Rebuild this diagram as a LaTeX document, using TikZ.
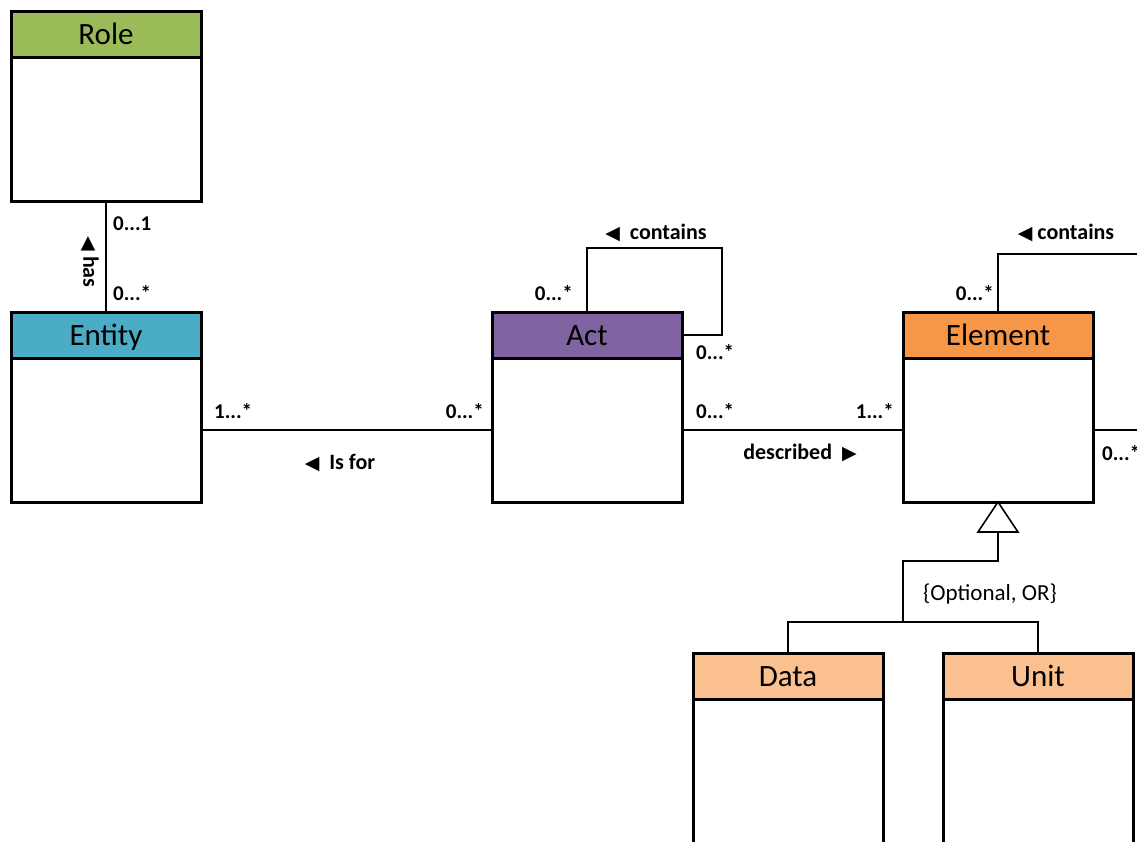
\documentclass[tikz,border=0pt]{standalone}
\usepackage{fontspec}
\setmainfont{Carlito}
\newfontfamily\sym{DejaVu Sans}
\definecolor{rolec}{HTML}{9BBB59}
\definecolor{entc}{HTML}{4BACC6}
\definecolor{actc}{HTML}{8064A2}
\definecolor{elemc}{HTML}{F79646}
\definecolor{subc}{HTML}{FAC090}
\newcommand{\lt}{{\sym\fontsize{19}{19}\selectfont ◀}}
\newcommand{\rt}{{\sym\fontsize{19}{19}\selectfont ▶}}
\tikzset{
  hdr/.style={draw, line width=3pt, minimum width=190pt, minimum height=46pt, inner sep=0pt, outer sep=0pt, anchor=north west, text height=20pt, text depth=0pt, font=\fontsize{31}{34}\selectfont},
  body/.style={draw, line width=3pt, fill=white, minimum width=190pt, minimum height=144pt, inner sep=0pt, outer sep=0pt, anchor=north west},
  conn/.style={line width=1.6pt},
  mult/.style={inner sep=0pt, font=\bfseries\fontsize{21}{24}\selectfont},
  lbl/.style={inner sep=0pt, font=\bfseries\fontsize{22}{24}\selectfont}
}
\begin{document}
\begin{tikzpicture}[x=1pt,y=-1pt]
\useasboundingbox (0,0) rectangle (1137,841);
\clip (0,0) rectangle (1137,841);
% boxes
\node[hdr, fill=rolec] (roleh) at (11,11) {Role};
\node[body] (role) at (11,57) {};
\node[hdr, fill=entc] (enth) at (11,312) {Entity};
\node[body] (ent) at (11,358) {};
\node[hdr, fill=actc] (acth) at (492,312) {Act};
\node[body] (act) at (492,358) {};
\node[hdr, fill=elemc] (elemh) at (903,312) {Element};
\node[body] (elem) at (903,358) {};
\node[hdr, fill=subc] (datah) at (693,653) {Data};
\node[body, minimum height=200pt] (data) at (693,699) {};
\node[hdr, fill=subc] (unith) at (943,653) {Unit};
\node[body, minimum height=200pt] (unit) at (943,699) {};
% Role - Entity
\draw[conn] (role.south) -- (enth.north);
\node[mult, anchor=west] (m1) at (113,224) {0...1};
\node[mult, anchor=west] (m2) at (113,293) {0...*};
\node[lbl, rotate=-90] (has) at (90,262) {\lt\ has};
% Entity - Act
\draw[conn] (ent.east) -- (act.west);
\node[mult, anchor=west] (m3) at (214,411) {1...*};
\node[mult, anchor=east] (m4) at (484,411) {0...*};
\node[lbl] (isfor) at (340,463) {\lt\ \ Is for};
% Act - Element
\draw[conn] (act.east) -- (elem.west);
\node[mult, anchor=west] (m5) at (696,411) {0...*};
\node[mult, anchor=east] (m6) at (894,411) {1...*};
\node[lbl] (desc) at (800,453) {described \ \rt};
% Act self loop
\coordinate (a1) at (722,248);
\draw[conn] (acth.north) |- (a1) |- (acth.east);
\node[mult, anchor=east] (m7) at (573,293) {0...*};
\node[mult, anchor=west] (m8) at (696,352) {0...*};
\node[lbl] (cont1) at (656,233) {\lt\ \ contains};
% Element loop
\coordinate (e1) at (1140,254);
\draw[conn] (elemh.north) |- (e1);
\node[mult, anchor=east] (m9) at (994,293) {0...*};
\node[lbl] (cont2) at (1066,233) {\lt\ contains};
\coordinate (e2) at (1140,430);
\draw[conn] (elem.east) -- (elem.east -| e2);
\node[mult, anchor=west] (m10) at (1102,453) {0...*};
% generalization
\draw[conn, fill=white] (elem.south) -- ++(-20,30) -- ++(40,0) -- cycle;
\coordinate (gb) at ([yshift=-30pt]elem.south);
\coordinate (j) at (903,622);
\draw[conn] (gb) -- ++(0,29) -| (j);
\draw[conn] (datah.north) |- (j) -| (unith.north);
\node[inner sep=0pt, font=\fontsize{23}{26}\selectfont] (opt) at (990,594) {\{Optional, OR\}};
\end{tikzpicture}
\end{document}
